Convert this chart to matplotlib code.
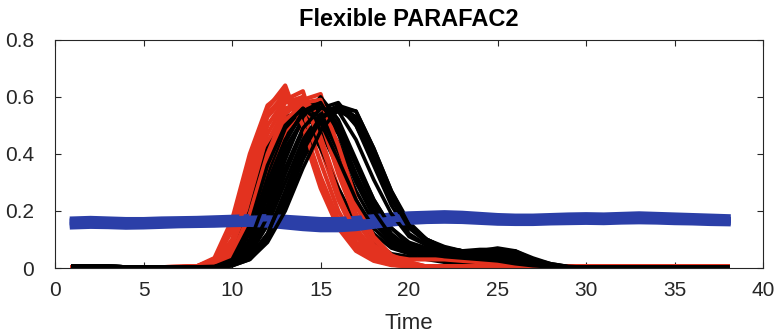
import numpy as np
import matplotlib
matplotlib.use("Agg")
import matplotlib.pyplot as plt

plt.rcParams['font.family'] = ['Liberation Sans', 'DejaVu Sans']

# time axis (samples 1..38)
time = list(range(1, 39))

# red profiles: t1-6 flat, typed t7-20, flat tail
red_lead = [0.003] * 6
red_curves = [
    red_lead + [0.004, 0.005, 0.03, 0.15, 0.38, 0.56, 0.64, 0.47, 0.28, 0.14, 0.06, 0.025, 0.01, 0.006] + [0.005] * 18,
    red_lead + [0.004, 0.005, 0.02, 0.10, 0.30, 0.50, 0.59, 0.62, 0.42, 0.24, 0.11, 0.045, 0.02, 0.008] + [0.005] * 18,
    red_lead + [0.003, 0.004, 0.01, 0.06, 0.20, 0.40, 0.54, 0.59, 0.61, 0.38, 0.19, 0.08, 0.03, 0.012] + [0.005] * 18,
    red_lead + [0.004, 0.006, 0.025, 0.13, 0.34, 0.53, 0.60, 0.50, 0.32, 0.17, 0.08, 0.03, 0.012, 0.006] + [0.005] * 18,
    red_lead + [0.003, 0.004, 0.015, 0.07, 0.24, 0.44, 0.56, 0.58, 0.46, 0.28, 0.14, 0.06, 0.025, 0.01] + [0.005] * 18,
    red_lead + [0.003, 0.004, 0.01, 0.04, 0.15, 0.33, 0.48, 0.56, 0.57, 0.41, 0.22, 0.10, 0.04, 0.02] + [0.005] * 18,
    red_lead + [0.003, 0.004, 0.012, 0.05, 0.18, 0.38, 0.52, 0.57, 0.52, 0.35, 0.18, 0.08, 0.04, 0.03,
                0.03, 0.03, 0.025, 0.02, 0.015, 0.01] + [0.005] * 12,
    red_lead + [0.004, 0.006, 0.03, 0.14, 0.36, 0.54, 0.61, 0.55, 0.37, 0.20, 0.09, 0.04, 0.015, 0.007] + [0.005] * 18,
    red_lead + [0.003, 0.004, 0.012, 0.05, 0.19, 0.40, 0.55, 0.60, 0.52, 0.33, 0.17, 0.075, 0.03, 0.012] + [0.005] * 18,
    red_lead + [0.004, 0.006, 0.035, 0.17, 0.40, 0.57, 0.62, 0.50, 0.31, 0.16, 0.07, 0.03, 0.012, 0.006] + [0.005] * 18,
    red_lead + [0.003, 0.005, 0.02, 0.09, 0.27, 0.47, 0.58, 0.60, 0.44, 0.26, 0.12, 0.05, 0.02, 0.01] + [0.005] * 18,
    red_lead + [0.003, 0.004, 0.01, 0.05, 0.17, 0.36, 0.51, 0.58, 0.59, 0.43, 0.24, 0.11, 0.045, 0.02] + [0.005] * 18,
]

# black profiles: t1-8 lead, typed t9-30, flat tail
black_lead = [0.006, 0.005, 0.005, 0.004, 0.004, 0.004, 0.004, 0.004]
black_curves = [
    black_lead + [0.006, 0.03, 0.18, 0.40, 0.53, 0.55, 0.48, 0.35, 0.22, 0.12, 0.07, 0.05,
                  0.04, 0.03, 0.025, 0.02, 0.015, 0.01, 0.006, 0.004, 0.003, 0.003] + [0.003] * 8,
    black_lead + [0.005, 0.02, 0.10, 0.28, 0.46, 0.56, 0.59, 0.50, 0.36, 0.22, 0.12, 0.07,
                  0.05, 0.04, 0.04, 0.03, 0.03, 0.02, 0.01, 0.005, 0.003, 0.003] + [0.003] * 8,
    black_lead + [0.004, 0.01, 0.05, 0.16, 0.33, 0.48, 0.56, 0.58, 0.50, 0.36, 0.22, 0.12,
                  0.08, 0.06, 0.06, 0.065, 0.065, 0.05, 0.02, 0.01, 0.004, 0.003] + [0.003] * 8,
    black_lead + [0.005, 0.015, 0.07, 0.22, 0.40, 0.52, 0.56, 0.47, 0.32, 0.19, 0.11, 0.07,
                  0.06, 0.06, 0.055, 0.05, 0.04, 0.03, 0.015, 0.006, 0.003, 0.003] + [0.003] * 8,
    black_lead + [0.004, 0.008, 0.03, 0.10, 0.24, 0.40, 0.51, 0.55, 0.52, 0.40, 0.26, 0.15,
                  0.10, 0.07, 0.06, 0.06, 0.07, 0.06, 0.03, 0.015, 0.005, 0.003] + [0.003] * 8,
    black_lead + [0.006, 0.04, 0.20, 0.42, 0.52, 0.52, 0.42, 0.28, 0.16, 0.09, 0.05, 0.04,
                  0.03, 0.02, 0.015, 0.01, 0.008, 0.006, 0.004, 0.003, 0.003, 0.003] + [0.003] * 8,
    black_lead + [0.005, 0.02, 0.08, 0.25, 0.42, 0.52, 0.53, 0.44, 0.30, 0.18, 0.10, 0.06,
                  0.045, 0.04, 0.035, 0.03, 0.02, 0.015, 0.008, 0.004, 0.003, 0.003] + [0.003] * 8,
    black_lead + [0.004, 0.01, 0.04, 0.10, 0.22, 0.38, 0.50, 0.57, 0.55, 0.42, 0.27, 0.16,
                  0.10, 0.07, 0.05, 0.05, 0.04, 0.03, 0.02, 0.008, 0.004, 0.003] + [0.003] * 8,
    black_lead + [0.005, 0.015, 0.06, 0.20, 0.38, 0.53, 0.60, 0.52, 0.38, 0.24, 0.14, 0.08,
                  0.06, 0.05, 0.04, 0.04, 0.035, 0.025, 0.015, 0.006, 0.003, 0.003] + [0.003] * 8,
    black_lead + [0.005, 0.02, 0.13, 0.33, 0.49, 0.56, 0.53, 0.41, 0.27, 0.16, 0.09, 0.06,
                  0.05, 0.05, 0.045, 0.04, 0.03, 0.02, 0.01, 0.005, 0.003, 0.003] + [0.003] * 8,
    black_lead + [0.004, 0.01, 0.05, 0.15, 0.30, 0.45, 0.54, 0.57, 0.50, 0.38, 0.24, 0.14,
                  0.10, 0.07, 0.06, 0.05, 0.05, 0.04, 0.025, 0.01, 0.004, 0.003] + [0.003] * 8,
    black_lead + [0.005, 0.025, 0.12, 0.30, 0.45, 0.54, 0.57, 0.50, 0.37, 0.24, 0.14, 0.09,
                  0.07, 0.06, 0.05, 0.045, 0.04, 0.03, 0.015, 0.006, 0.003, 0.003] + [0.003] * 8,
    black_lead + [0.005, 0.03, 0.15, 0.36, 0.50, 0.56, 0.51, 0.38, 0.24, 0.14, 0.08, 0.06,
                  0.05, 0.04, 0.035, 0.03, 0.025, 0.015, 0.008, 0.004, 0.003, 0.003] + [0.003] * 8,
    black_lead + [0.004, 0.012, 0.06, 0.18, 0.35, 0.49, 0.56, 0.55, 0.45, 0.31, 0.19, 0.11,
                  0.08, 0.065, 0.06, 0.06, 0.055, 0.04, 0.02, 0.008, 0.004, 0.003] + [0.003] * 8,
    black_lead + [0.005, 0.02, 0.09, 0.26, 0.44, 0.55, 0.58, 0.48, 0.33, 0.20, 0.11, 0.07,
                  0.055, 0.05, 0.05, 0.045, 0.035, 0.025, 0.012, 0.005, 0.003, 0.003] + [0.003] * 8,
    black_lead + [0.004, 0.009, 0.04, 0.12, 0.27, 0.43, 0.53, 0.56, 0.51, 0.39, 0.25, 0.15,
                  0.09, 0.065, 0.055, 0.06, 0.065, 0.055, 0.03, 0.012, 0.005, 0.003] + [0.003] * 8,
    black_lead + [0.004, 0.008, 0.03, 0.09, 0.20, 0.35, 0.48, 0.56, 0.55, 0.42, 0.27, 0.15,
                  0.10, 0.075, 0.06, 0.055, 0.06, 0.06, 0.035, 0.015, 0.005, 0.003] + [0.003] * 8,
    black_lead + [0.004, 0.01, 0.04, 0.12, 0.26, 0.41, 0.52, 0.57, 0.53, 0.40, 0.25, 0.14,
                  0.09, 0.07, 0.06, 0.05, 0.05, 0.045, 0.03, 0.012, 0.004, 0.003] + [0.003] * 8,
]

# blue (flat) profiles, 38 values each
blue_curves = [
    [0.170, 0.172, 0.170, 0.168, 0.168, 0.170, 0.171, 0.172, 0.174, 0.176,
     0.178, 0.178, 0.176, 0.172, 0.168, 0.168, 0.172, 0.178, 0.184, 0.188,
     0.190, 0.192, 0.190, 0.186, 0.182, 0.180, 0.180, 0.182, 0.184, 0.185,
     0.184, 0.186, 0.188, 0.186, 0.184, 0.182, 0.180, 0.178],
    [0.160, 0.162, 0.160, 0.157, 0.158, 0.160, 0.162, 0.163, 0.164, 0.166,
     0.168, 0.168, 0.165, 0.160, 0.156, 0.157, 0.163, 0.170, 0.176, 0.180,
     0.182, 0.183, 0.181, 0.177, 0.173, 0.171, 0.171, 0.173, 0.175, 0.176,
     0.175, 0.177, 0.178, 0.177, 0.175, 0.173, 0.171, 0.169],
    [0.152, 0.155, 0.153, 0.150, 0.151, 0.153, 0.155, 0.156, 0.157, 0.159,
     0.161, 0.160, 0.155, 0.149, 0.145, 0.146, 0.152, 0.160, 0.167, 0.172,
     0.175, 0.176, 0.174, 0.170, 0.166, 0.164, 0.164, 0.166, 0.168, 0.169,
     0.168, 0.170, 0.171, 0.170, 0.168, 0.166, 0.164, 0.162],
    [0.146, 0.148, 0.147, 0.145, 0.146, 0.148, 0.150, 0.151, 0.152, 0.154,
     0.155, 0.152, 0.146, 0.140, 0.136, 0.136, 0.140, 0.148, 0.156, 0.162,
     0.165, 0.166, 0.165, 0.162, 0.159, 0.158, 0.158, 0.160, 0.161, 0.162,
     0.161, 0.163, 0.164, 0.163, 0.161, 0.160, 0.158, 0.157],
    [0.164, 0.166, 0.165, 0.162, 0.163, 0.165, 0.166, 0.167, 0.169, 0.171,
     0.173, 0.174, 0.172, 0.168, 0.163, 0.160, 0.158, 0.162, 0.170, 0.176,
     0.180, 0.182, 0.180, 0.176, 0.172, 0.170, 0.170, 0.172, 0.174, 0.175,
     0.174, 0.176, 0.177, 0.176, 0.174, 0.172, 0.170, 0.168],
]

red = '#E3321F'
blue = '#2B3FA8'

fig = plt.figure(figsize=(7.77, 3.35), dpi=100)
ax = fig.add_axes([0.071, 0.2, 0.911, 0.681])

# interleave the groups so overlaps mix like the original;
# blue joins late so it mostly sits on top
n = max(len(red_curves), len(black_curves))
blue_start = 9
for i in range(n):
    if i < len(black_curves):
        ax.plot(time, black_curves[i], color='black', lw=2.6)
    if i < len(red_curves):
        ax.plot(time, red_curves[i], color=red, lw=3.0)
    j = i - blue_start
    if 0 <= j < len(blue_curves):
        ax.plot(time, blue_curves[j], color=blue, lw=4.5)

ax.set_xlim(0, 40)
ax.set_ylim(0, 0.8)
ax.set_xticks(np.arange(0, 41, 5))
ax.set_yticks([0, 0.2, 0.4, 0.6, 0.8])
ax.set_yticklabels(['0', '0.2', '0.4', '0.6', '0.8'])
ax.tick_params(direction='in', top=True, right=True, length=4, width=0.8,
               labelsize=15, colors='#262626')
ax.tick_params(axis='y', pad=15)
ax.tick_params(axis='x', pad=9)
for s in ax.spines.values():
    s.set_linewidth(0.8)
    s.set_color('#262626')
ax.set_xlabel('Time', fontsize=16, color='#262626', labelpad=10)
ax.set_title('Flexible PARAFAC2', fontsize=17, fontweight='bold', pad=10)

fig.savefig('out.png', dpi=100)
